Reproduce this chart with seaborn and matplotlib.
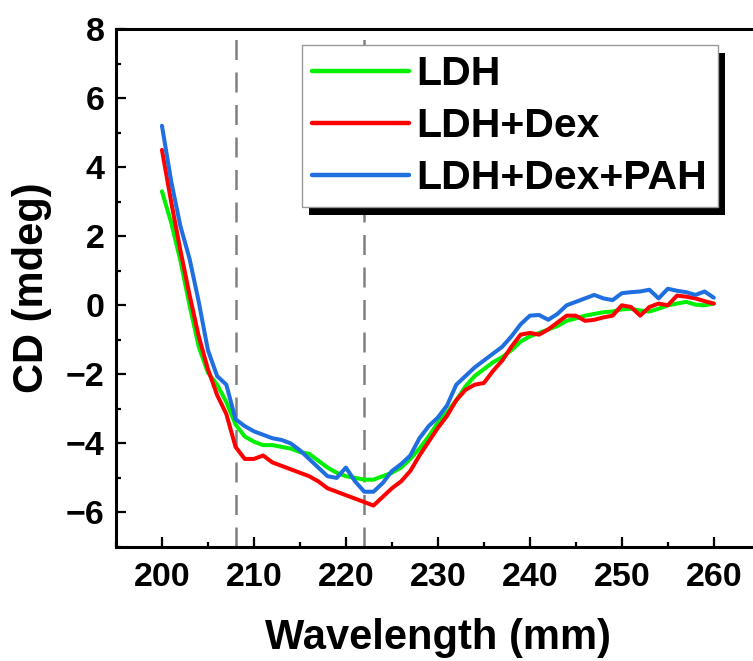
import numpy as np
import pandas as pd
import seaborn as sns
import matplotlib.pyplot as plt
from matplotlib.patches import Rectangle
from matplotlib.ticker import MultipleLocator


# wavelength grid (nm) at 1 nm steps
wavelength = list(range(200, 261))

ldh = [3.3, 2.4, 1.3, 0.0, -1.2, -1.95, -2.3, -2.8, -3.45, -3.8,
       -3.95, -4.05, -4.05, -4.1, -4.15, -4.25, -4.3, -4.5, -4.7, -4.85,
       -4.95, -5.0, -5.05, -5.05, -4.95, -4.85, -4.7, -4.45, -4.15, -3.8,
       -3.4, -3.1, -2.75, -2.35, -2.05, -1.85, -1.65, -1.5, -1.3, -1.05,
       -0.9, -0.8, -0.7, -0.6, -0.45, -0.38, -0.3, -0.25, -0.2, -0.18,
       -0.12, -0.1, -0.15, -0.18, -0.1, 0.0, 0.05, 0.1, 0.02, 0.0,
       0.05]

ldh_dex = [4.5, 3.0, 1.6, 0.3, -0.9, -1.85, -2.6, -3.15, -4.1, -4.45,
           -4.45, -4.35, -4.55, -4.65, -4.75, -4.85, -4.95, -5.1, -5.3, -5.4,
           -5.5, -5.6, -5.7, -5.8, -5.55, -5.3, -5.1, -4.8, -4.35, -3.95,
           -3.55, -3.2, -2.75, -2.45, -2.3, -2.25, -1.9, -1.6, -1.2, -0.85,
           -0.8, -0.85, -0.7, -0.5, -0.3, -0.3, -0.45, -0.42, -0.35, -0.3,
           0.0, -0.05, -0.3, -0.05, 0.05, 0.0, 0.28, 0.25, 0.2, 0.12,
           0.05]

ldh_dex_pah = [5.2, 3.6, 2.3, 1.35, 0.1, -1.3, -2.05, -2.3, -3.3, -3.5,
               -3.65, -3.75, -3.85, -3.9, -4.0, -4.2, -4.45, -4.7, -4.95, -5.0,
               -4.7, -5.1, -5.4, -5.4, -5.15, -4.8, -4.6, -4.35, -3.85, -3.5,
               -3.25, -2.9, -2.3, -2.05, -1.8, -1.6, -1.4, -1.2, -0.9, -0.55,
               -0.3, -0.28, -0.42, -0.25, 0.0, 0.1, 0.2, 0.3, 0.2, 0.15,
               0.35, 0.38, 0.4, 0.45, 0.2, 0.48, 0.42, 0.38, 0.3, 0.4,
               0.22]

labels = ['LDH', 'LDH+Dex', 'LDH+Dex+PAH']
colors = ['#00f000', '#ff0000', '#1f6fe0']
band_lines = [208, 222]

df = pd.DataFrame({
    'Wavelength': wavelength * 3,
    'CD': ldh + ldh_dex + ldh_dex_pah,
    'Sample': [l for l in labels for _ in wavelength],
})

sns.set_style('ticks')
plt.rcParams['font.family'] = ['Liberation Sans', 'DejaVu Sans']
plt.rcParams['font.weight'] = 'bold'
for key in ['text.color', 'axes.labelcolor', 'xtick.color', 'ytick.color']:
    plt.rcParams[key] = 'black'

fig = plt.figure(figsize=(7.53, 6.61), dpi=100)
# right edge of the frame falls just outside the picture, as in the source
ax = fig.add_axes([0.154, 0.1725, 0.855, 0.7835])

sns.lineplot(data=df, x='Wavelength', y='CD', hue='Sample',
             palette=dict(zip(labels, colors)), linewidth=2.9, ax=ax,
             legend=False)

for b in band_lines:
    ax.axvline(b, color='#808080', linewidth=1.8, dashes=(8, 5), zorder=0)

ax.set_xlim(195, 265)
ax.set_ylim(-7, 8)
ax.xaxis.set_major_locator(MultipleLocator(10))
ax.xaxis.set_minor_locator(MultipleLocator(5))
ax.yaxis.set_major_locator(MultipleLocator(2))
ax.yaxis.set_minor_locator(MultipleLocator(1))
ax.tick_params(which='major', direction='in', length=7, width=1.6,
               labelsize=24.5)
ax.tick_params(which='minor', direction='in', length=3.5, width=1.6)
ax.tick_params(axis='x', which='major', pad=11)
ax.tick_params(axis='y', which='major', pad=8)
for sp in ax.spines.values():
    sp.set_linewidth(2.2)
    sp.set_color('black')

ax.set_xlabel('Wavelength (mm)', fontsize=30, fontweight='bold', labelpad=18)
ax.set_ylabel('CD (mdeg)', fontsize=30, fontweight='bold', labelpad=10)

# legend with a solid black drop shadow
handles = [plt.Line2D([], [], color=c, linewidth=3.2,
                      solid_capstyle='round') for c in colors]
leg = fig.legend(handles, labels, loc='upper left',
                 bbox_to_anchor=(302 / 753, 1 - 45 / 661),
                 prop={'family': ['Liberation Sans'], 'weight': 'bold',
                       'size': 29.5},
                 frameon=True, fancybox=False, framealpha=1,
                 facecolor='white', handlelength=2.35,
                 handletextpad=0.2, labelspacing=0.34, borderpad=0.25,
                 borderaxespad=0)
leg.get_frame().set_edgecolor('#999999')
leg.get_frame().set_linewidth(1.0)
leg.set_zorder(5)

fig.canvas.draw()
bb = leg.get_window_extent().transformed(fig.transFigure.inverted())
shadow = Rectangle((bb.x0 + 7 / 753, bb.y0 - 8 / 661), bb.width, bb.height,
                   transform=fig.transFigure, facecolor='black',
                   edgecolor='none', zorder=4)
fig.patches.append(shadow)

fig.savefig('out.png', dpi=100)
